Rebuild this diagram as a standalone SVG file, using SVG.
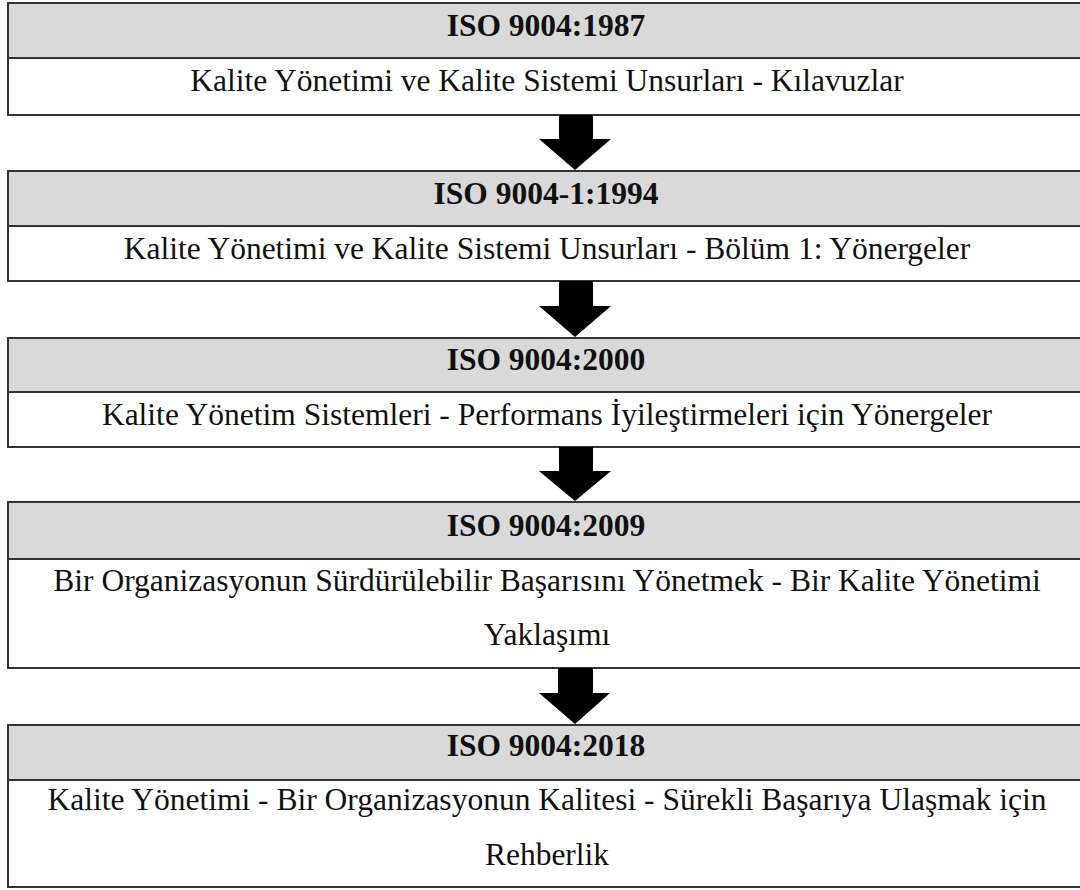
<svg xmlns="http://www.w3.org/2000/svg" width="1080" height="890" viewBox="0 0 1080 890">
<style>
.box{fill:#ffffff;stroke:#333333;stroke-width:2}
.hdr{fill:#d9d9d9;stroke:#333333;stroke-width:2}
.h{font-family:"Liberation Serif","Times New Roman",serif;font-weight:bold;font-size:31.5px;fill:#111;text-anchor:middle}
.t{font-family:"Liberation Serif","Times New Roman",serif;font-size:31.5px;fill:#111;text-anchor:middle}
.arr{fill:#000000}
</style>
<rect width="1080" height="890" fill="#ffffff"/>
<g id="node1">
<rect class="box" x="8" y="3" width="1078" height="112"/>
<rect class="hdr" x="8" y="3" width="1078" height="55"/>
<text class="h" x="546" y="36">ISO 9004:1987</text>
<text class="t" x="547" y="91">Kalite Yönetimi ve Kalite Sistemi Unsurları - Kılavuzlar</text>
</g>
<g id="node2">
<rect class="box" x="8" y="171" width="1078" height="110"/>
<rect class="hdr" x="8" y="171" width="1078" height="55"/>
<text class="h" x="546" y="204">ISO 9004-1:1994</text>
<text class="t" x="547" y="259">Kalite Yönetimi ve Kalite Sistemi Unsurları - Bölüm 1: Yönergeler</text>
</g>
<g id="node3">
<rect class="box" x="8" y="338" width="1078" height="109"/>
<rect class="hdr" x="8" y="338" width="1078" height="54"/>
<text class="h" x="546" y="370">ISO 9004:2000</text>
<text class="t" x="547" y="425">Kalite Yönetim Sistemleri - Performans İyileştirmeleri için Yönergeler</text>
</g>
<g id="node4">
<rect class="box" x="8" y="502" width="1078" height="166"/>
<rect class="hdr" x="8" y="502" width="1078" height="57"/>
<text class="h" x="546" y="536">ISO 9004:2009</text>
<text class="t" x="547" y="591">Bir Organizasyonun Sürdürülebilir Başarısını Yönetmek - Bir Kalite Yönetimi</text>
<text class="t" x="547" y="645">Yaklaşımı</text>
</g>
<g id="node5">
<rect class="box" x="8" y="725" width="1078" height="162"/>
<rect class="hdr" x="8" y="725" width="1078" height="55"/>
<text class="h" x="546" y="756">ISO 9004:2018</text>
<text class="t" x="547" y="810">Kalite Yönetimi - Bir Organizasyonun Kalitesi - Sürekli Başarıya Ulaşmak için</text>
<text class="t" x="547" y="865">Rehberlik</text>
</g>
<g id="connectors">
<polygon class="arr" points="559,115 593,115 593,139 611,139 575,170 539,139 559,139"/>
<polygon class="arr" points="559,281 593,281 593,306 611,306 575,337 539,306 559,306"/>
<polygon class="arr" points="559,447 593,447 593,471 611,471 575,501 539,471 559,471"/>
<polygon class="arr" points="558,668 593,668 593,693 610,693 575,724 539,693 558,693"/>
</g>
</svg>
